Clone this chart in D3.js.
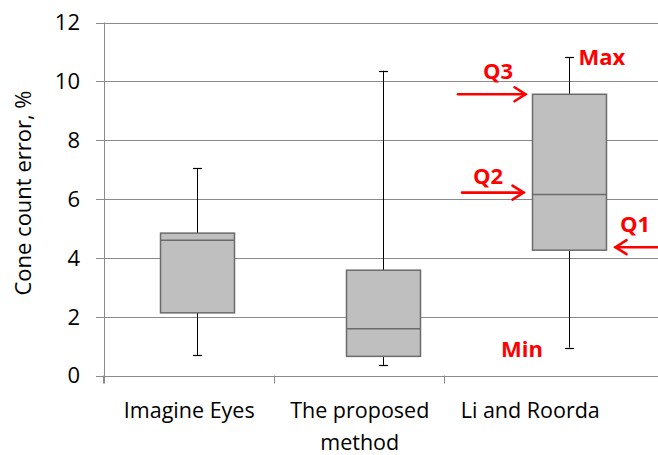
<!DOCTYPE html>
<html>
<head>
<meta charset="utf-8">
<script src="https://cdn.jsdelivr.net/npm/d3@7"></script>
<style>
  html, body { margin:0; padding:0; background:#fff; }
  svg { display:block; font-family:"Open Sans", sans-serif; }
</style>
</head>
<body>
<svg id="chart" width="658" height="455"></svg>
<script>
/* box-plot of cone count error per method */
const categories = ['Imagine Eyes', 'The proposed method', 'Li and Roorda'];
const labelLines = [['Imagine Eyes'], ['The proposed', 'method'], ['Li and Roorda']];
const mins    = [0.68, 0.36, 0.95];
const q1s     = [2.13, 0.65, 4.26];
const medians = [4.60, 1.59, 6.15];
const q3s     = [4.84, 3.58, 9.56];
const maxs    = [7.05, 10.36, 10.82];
const yTicks  = [0, 2, 4, 6, 8, 10, 12];
const notes   = ['Max', 'Q3', 'Q2', 'Q1', 'Min'];   // annotations on the last box

const svg = d3.select('#chart'),
      W   = +svg.attr('width');

const AX = 104;                                    // y-axis x position

/* ---------- scales ---------------------------------------- */
const y = d3.scaleLinear().domain([0, 12]).range([375.5, 22.5]);

// boxes and category labels sit on slightly different grids (as in the source)
const xBox = d3.scaleBand().domain(categories).range([AX, 661.5]);
const xLab = d3.scaleBand().domain(categories).range([AX, 615.5]);

const boxW = 74;

/* ---------- grid + axes ----------------------------------- */
svg.append('g').selectAll('line')
  .data(yTicks).enter().append('line')
    .attr('x1', AX - 8).attr('x2', W)
    .attr('y1', d => Math.round(y(d)) + 0.5)
    .attr('y2', d => Math.round(y(d)) + 0.5)
    .attr('stroke', '#8a8a8a').attr('stroke-width', 1);

svg.append('line')
  .attr('x1', AX + 0.5).attr('x2', AX + 0.5)
  .attr('y1', y(12)).attr('y2', y(0) + 8)
  .attr('stroke', '#8a8a8a');

svg.append('g').selectAll('text')
  .data(yTicks).enter().append('text')
    .attr('x', 80).attr('y', d => y(d))
    .attr('dy', '0.36em')
    .attr('text-anchor', 'end')
    .style('font-size', '22px').style('fill', '#000')
    .text(d => d);

svg.append('g').selectAll('line')
  .data(categories).enter().append('line')
    .attr('x1', d => Math.round(xLab(d)) - 0.5)
    .attr('x2', d => Math.round(xLab(d)) - 0.5)
    .attr('y1', y(0)).attr('y2', y(0) + 8)
    .attr('stroke', '#8a8a8a');

const lab = svg.append('g').selectAll('text')
  .data(categories).enter().append('text')
    .attr('x', d => xLab(d) + xLab.bandwidth() / 2)
    .attr('y', 418)
    .attr('text-anchor', 'middle')
    .style('font-size', '21.5px').style('fill', '#000');
lab.selectAll('tspan')
  .data((d, i) => labelLines[i]).enter().append('tspan')
    .attr('x', function () { return this.parentNode.getAttribute('x'); })
    .attr('dy', (d, i) => i ? 32 : 0)
    .text(d => d);

svg.append('text')
  .attr('transform', `translate(31,${y(6) - 6}) rotate(-90)`)
  .attr('text-anchor', 'middle')
  .style('font-size', '22px').style('fill', '#000')
  .text('Cone count error, %');

/* ---------- boxes ----------------------------------------- */
const rows = categories.map((c, i) => ({
  c, min: mins[i], q1: q1s[i], med: medians[i], q3: q3s[i], max: maxs[i]
}));
const cx = d => Math.round(xBox(d.c) + xBox.bandwidth() / 2) + 0.5;

const G = svg.append('g').selectAll('g').data(rows).enter().append('g');

G.append('line')                                   // whisker
  .attr('x1', cx).attr('x2', cx)
  .attr('y1', d => y(d.max)).attr('y2', d => y(d.min))
  .attr('stroke', '#000').attr('stroke-width', 1);
['max', 'min'].forEach(k => {
  G.append('line')
    .attr('x1', d => cx(d) - 4.5).attr('x2', d => cx(d) + 4.5)
    .attr('y1', d => Math.round(y(d[k])) + 0.5)
    .attr('y2', d => Math.round(y(d[k])) + 0.5)
    .attr('stroke', '#000').attr('stroke-width', 1.2);
});
G.append('rect')
  .attr('x', d => cx(d) - boxW / 2)
  .attr('width', boxW)
  .attr('y', d => y(d.q3))
  .attr('height', d => y(d.q1) - y(d.q3))
  .attr('fill', '#bfbfbf').attr('stroke', '#6b6b6b').attr('stroke-width', 1.5);
G.append('line')
  .attr('x1', d => cx(d) - boxW / 2).attr('x2', d => cx(d) + boxW / 2)
  .attr('y1', d => y(d.med)).attr('y2', d => y(d.med))
  .attr('stroke', '#6b6b6b').attr('stroke-width', 1.5);

/* ---------- red annotations on last box ------------------- */
const last = rows[rows.length - 1],
      lx   = cx(last),
      red  = '#ff0000';
const A = svg.append('g').style('fill', red).style('font-weight', 'bold').style('font-size', '22px');

// [text x, baseline offset, value key]
const notePos = {
  Max: [lx + 9,  8,   'max'],
  Q3:  [483,    -15,  'q3'],
  Q2:  [473,    -11,  'med'],
  Q1:  [620,    -18,  'q1'],
  Min: [501,     9,   'min']
};
notes.forEach(n => {
  const [tx, off, k] = notePos[n];
  A.append('text').attr('x', tx).attr('y', y(last[k]) + off).text(n);
});

function arrow(x1, x2, yy){
  const dir = Math.sign(x2 - x1);
  const a = svg.append('g').attr('stroke', red).attr('stroke-width', 2.6)
               .attr('fill', 'none').attr('stroke-linecap', 'round');
  a.append('line').attr('x1', x1).attr('x2', x2).attr('y1', yy).attr('y2', yy);
  a.append('path')
    .attr('d', `M${x2 - dir * 11},${yy - 7} L${x2},${yy} L${x2 - dir * 11},${yy + 7}`);
}
arrow(458, lx - boxW / 2 - 7, y(last.q3));
arrow(462, lx - boxW / 2 - 9, y(last.med) - 2);
arrow(W + 2, lx + boxW / 2 + 9, y(last.q1) - 3);
</script>
</body>
</html>
